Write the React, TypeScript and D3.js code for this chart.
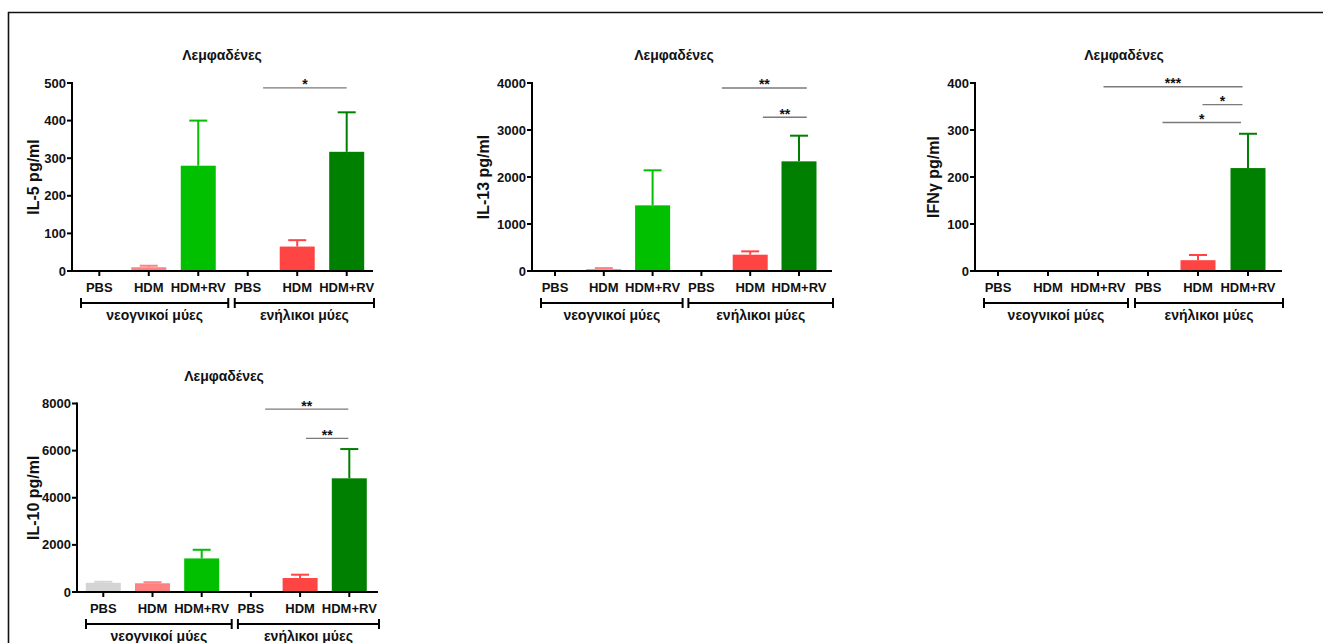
import React from "react";
import * as d3 from "d3";

// ---- data ----
const categories = ["PBS", "HDM", "HDM+RV", "PBS", "HDM", "HDM+RV"];
const groupLabels = ["νεογνικοί μύες", "ενήλικοι μύες"];
const barColors = ["#d4d4d4", "#ff8282", "#00c000", "#c8c8c8", "#ff4444", "#008000"];
const chartTitle = "Λεμφαδένες";

const il5Mean = [0, 10, 280, 0, 65, 317];
const il5Err = [0, 4, 120, 0, 17, 105];
const il5Ticks = [0, 100, 200, 300, 400, 500];
const il5Sig = [{ from: 3.31, to: 5.0, y: 487, label: "*" }];

const il13Mean = [0, 40, 1397, 0, 347, 2333];
const il13Err = [0, 22, 745, 0, 71, 546];
const il13Ticks = [0, 1000, 2000, 3000, 4000];
const il13Sig = [
  { from: 3.42, to: 5.16, y: 3894, label: "**" },
  { from: 4.26, to: 5.16, y: 3270, label: "**" },
];

const ifnMean = [0, 0, 0, 0, 23, 219];
const ifnErr = [0, 0, 0, 0, 11, 73];
const ifnTicks = [0, 100, 200, 300, 400];
const ifnSig = [
  { from: 2.11, to: 4.89, y: 392, label: "***" },
  { from: 4.09, to: 4.89, y: 354, label: "*" },
  { from: 3.29, to: 4.86, y: 316, label: "*" },
];

const il10Mean = [390, 370, 1425, 0, 593, 4825];
const il10Err = [45, 45, 367, 0, 141, 1242];
const il10Ticks = [0, 2000, 4000, 6000, 8000];
const il10Sig = [
  { from: 3.29, to: 4.98, y: 7760, label: "**" },
  { from: 4.12, to: 4.98, y: 6519, label: "**" },
];

// ---- layout ----
const panels = [
  { yLabel: "IL-5 pg/ml", mean: il5Mean, err: il5Err, ticks: il5Ticks, sig: il5Sig,
    axisX: 72, axisEnd: 373, zeroY: 271, topY: 83, c0: 99.3, c5: 346.7, titleX: 222, yLabelX: 33 },
  { yLabel: "IL-13 pg/ml", mean: il13Mean, err: il13Err, ticks: il13Ticks, sig: il13Sig,
    axisX: 532, axisEnd: 832, zeroY: 271, topY: 83, c0: 555, c5: 799, titleX: 674, yLabelX: 483 },
  { yLabel: "IFNγ pg/ml", mean: ifnMean, err: ifnErr, ticks: ifnTicks, sig: ifnSig,
    axisX: 975, axisEnd: 1282, zeroY: 271, topY: 83, c0: 998, c5: 1248, titleX: 1124, yLabelX: 933 },
  { yLabel: "IL-10 pg/ml", mean: il10Mean, err: il10Err, ticks: il10Ticks, sig: il10Sig,
    axisX: 77, axisEnd: 378, zeroY: 592, topY: 403.5, c0: 103.3, c5: 349.3, titleX: 224, yLabelX: 33 },
];

const FONT = "'Liberation Sans', Arial, sans-serif";
const BAR_W = 35;
const CAP_W = 18;

function Panel({ p }: { p: any }) {
  const y = d3.scaleLinear().domain([0, p.ticks[p.ticks.length - 1]]).range([p.zeroY, p.topY]);
  const x = d3.scaleLinear().domain([0, categories.length - 1]).range([p.c0, p.c5]);
  const br1 = [p.axisX + 9, x(2) + 30];
  const br2 = [x(3) - 13, p.axisEnd + 1];
  const brY = p.zeroY + 32;
  return (
    <g>
      <text x={p.titleX} y={p.zeroY - 216} textAnchor="middle" dominantBaseline="central"
        fontFamily={FONT} fontWeight="bold" fontSize={14} fill="#111">{chartTitle}</text>
      {/* bars */}
      {p.mean.map((m: number, i: number) => (
        m > 0 ? (
          <g key={i}>
            <rect x={x(i) - BAR_W / 2} y={y(m)} width={BAR_W} height={p.zeroY - y(m)} fill={barColors[i]} />
            {p.err[i] > 0 && (
              <g stroke={barColors[i]} strokeWidth={2}>
                <line x1={x(i)} x2={x(i)} y1={y(m)} y2={y(m + p.err[i])} />
                <line x1={x(i) - CAP_W / 2} x2={x(i) + CAP_W / 2} y1={y(m + p.err[i])} y2={y(m + p.err[i])} />
              </g>
            )}
          </g>
        ) : null
      ))}
      {/* y axis */}
      <line x1={p.axisX} x2={p.axisX} y1={p.topY - 1} y2={p.zeroY + 1} stroke="#000" strokeWidth={2} />
      {p.ticks.map((t: number) => (
        <g key={t}>
          <line x1={p.axisX - 5} x2={p.axisX} y1={y(t)} y2={y(t)} stroke="#000" strokeWidth={2} />
          <text x={p.axisX - 6} y={y(t)} textAnchor="end" dominantBaseline="central"
            fontFamily={FONT} fontWeight="bold" fontSize={13} fill="#111">{t}</text>
        </g>
      ))}
      <text transform={`translate(${p.yLabelX},${(p.topY + p.zeroY) / 2}) rotate(-90)`} textAnchor="middle"
        dominantBaseline="central" fontFamily={FONT} fontWeight="bold" fontSize={16} fill="#111">{p.yLabel}</text>
      {/* x axis */}
      <line x1={p.axisX - 5} x2={p.axisEnd} y1={p.zeroY} y2={p.zeroY} stroke="#000" strokeWidth={2} />
      {categories.map((c, i) => (
        <g key={i}>
          <line x1={x(i)} x2={x(i)} y1={p.zeroY} y2={p.zeroY + 5} stroke="#000" strokeWidth={2} />
          <text x={x(i)} y={p.zeroY + 16} textAnchor="middle" dominantBaseline="central"
            fontFamily={FONT} fontWeight="bold" fontSize={13} fill="#111">{c}</text>
        </g>
      ))}
      {/* group brackets */}
      {[br1, br2].map((b, i) => (
        <g key={i} stroke="#000" strokeWidth={2}>
          <line x1={b[0]} x2={b[1]} y1={brY} y2={brY} />
          <line x1={b[0]} x2={b[0]} y1={brY - 5} y2={brY + 5} />
          <line x1={b[1]} x2={b[1]} y1={brY - 5} y2={brY + 5} />
          <text x={(b[0] + b[1]) / 2} y={brY + 12} textAnchor="middle" dominantBaseline="central"
            stroke="none" fontFamily={FONT} fontWeight="bold" fontSize={14} fill="#111">{groupLabels[i]}</text>
        </g>
      ))}
      {/* significance */}
      {p.sig.map((s: any, i: number) => (
        <g key={i}>
          <line x1={x(s.from)} x2={x(s.to)} y1={y(s.y)} y2={y(s.y)} stroke="#7a7a7a" strokeWidth={1.4} />
          <text x={(x(s.from) + x(s.to)) / 2} y={y(s.y) + 1.5} textAnchor="middle"
            fontFamily={FONT} fontWeight="bold" fontSize={14} fill="#111">{s.label}</text>
        </g>
      ))}
    </g>
  );
}

export default function App() {
  return (
    <svg width={1323} height={643} style={{ position: "absolute", left: 0, top: 0, background: "#fff" }}>
      <rect x={0} y={0} width={1323} height={643} fill="#fff" />
      <line x1={8} x2={1323} y1={12.5} y2={12.5} stroke="#111" strokeWidth={1.6} />
      <line x1={8.5} x2={8.5} y1={12} y2={643} stroke="#111" strokeWidth={1.6} />
      {panels.map((p, i) => <Panel key={i} p={p} />)}
    </svg>
  );
}
